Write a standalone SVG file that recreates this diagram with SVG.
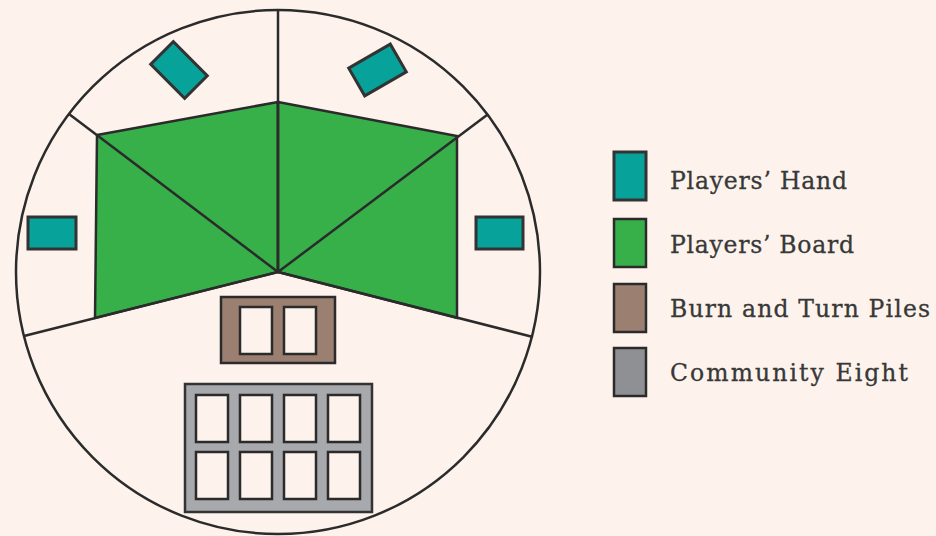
<svg xmlns="http://www.w3.org/2000/svg" width="936" height="536" viewBox="0 0 936 536">
<style>
.ln{stroke:#2b2b2b;stroke-width:2.5;fill:none;stroke-linejoin:miter}
.board{fill:#37b04a;stroke:#2b2b2b;stroke-width:2.5;stroke-linejoin:miter}
.hand{fill:#07a39b;stroke:#333;stroke-width:3}
.burn{fill:#9b8072;stroke:#2b2b2b;stroke-width:2.5}
.comm{fill:#a7a9ac;stroke:#333;stroke-width:2.5}
.slot{fill:#fdf3ec;stroke:#2b2b2b;stroke-width:2.5}
.lbl{font-family:"DejaVu Serif","Liberation Serif",serif;font-size:23.5px;fill:#383838;stroke:#383838;stroke-width:0.3}
</style>
<rect width="936" height="536" fill="#fdf3ec"/>
<g id="table">
<circle cx="278" cy="272" r="262" fill="#fdf3ec" stroke="#2b2b2b" stroke-width="2.5"/>
</g>
<g id="board-left"><polygon class="board" points="97,135 278,102 278,272 95,318"/></g>
<g id="board-right"><polygon class="board" points="278,102 457,136 457,318 278,272"/></g>
<g id="connectors">
<line class="ln" x1="278" y1="272" x2="278" y2="10"/>
<line class="ln" x1="278" y1="272" x2="69" y2="114"/>
<line class="ln" x1="278" y1="272" x2="487" y2="115"/>
<line class="ln" x1="278" y1="272" x2="24" y2="336"/>
<line class="ln" x1="278" y1="272" x2="533" y2="337"/>
</g>
<g id="hand-left"><rect class="hand" x="28" y="217" width="48" height="32"/></g>
<g id="hand-right"><rect class="hand" x="476" y="217" width="47" height="32"/></g>
<g id="hand-top-left"><rect class="hand" x="-24" y="-16" width="48" height="32" transform="translate(179,70) rotate(45)"/></g>
<g id="hand-top-right"><rect class="hand" x="-24" y="-16" width="48" height="32" transform="translate(377.5,70) rotate(-30)"/></g>
<g id="burn-turn">
<rect class="burn" x="221" y="297" width="114" height="66"/>
<rect class="slot" x="240" y="307" width="32" height="47"/>
<rect class="slot" x="284" y="307" width="32" height="47"/>
</g>
<g id="community-eight">
<rect class="comm" x="185" y="384" width="187" height="128"/>
<rect class="slot" x="196" y="395" width="32" height="47"/>
<rect class="slot" x="240" y="395" width="32" height="47"/>
<rect class="slot" x="284" y="395" width="32" height="47"/>
<rect class="slot" x="328" y="395" width="32" height="47"/>
<rect class="slot" x="196" y="452" width="32" height="47"/>
<rect class="slot" x="240" y="452" width="32" height="47"/>
<rect class="slot" x="284" y="452" width="32" height="47"/>
<rect class="slot" x="328" y="452" width="32" height="47"/>
</g>
<g id="legend-hand">
<rect class="hand" x="614" y="152" width="32" height="48" stroke-width="2.5"/>
<text class="lbl" x="670" y="189" textLength="177">Players’ Hand</text>
</g>
<g id="legend-board">
<rect class="board" x="614" y="219" width="32" height="48"/>
<text class="lbl" x="670" y="253" textLength="184">Players’ Board</text>
</g>
<g id="legend-burn">
<rect class="burn" x="614" y="284" width="32" height="48"/>
<text class="lbl" x="670" y="317" textLength="260">Burn and Turn Piles</text>
</g>
<g id="legend-community">
<rect fill="#8e9093" stroke="#2b2b2b" stroke-width="2.5" x="614" y="348" width="32" height="48"/>
<text class="lbl" x="670" y="381" textLength="238">Community Eight</text>
</g>
</svg>
